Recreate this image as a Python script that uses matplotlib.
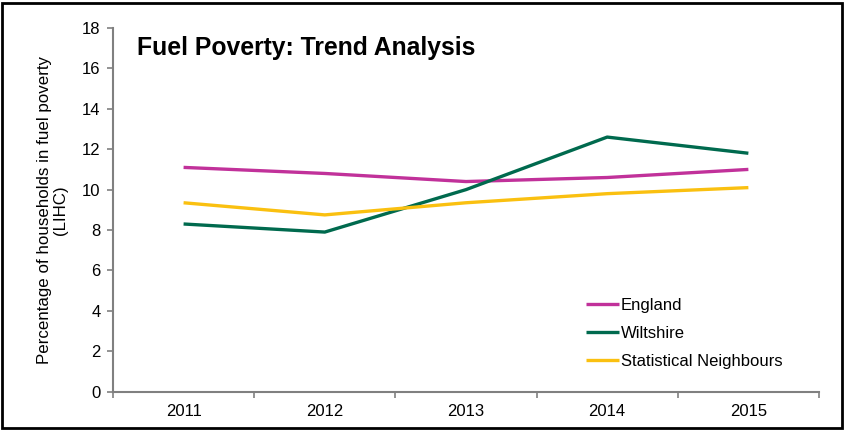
import numpy as np
import matplotlib.pyplot as plt

plt.rcParams['font.family'] = ['Liberation Sans', 'DejaVu Sans']

years = ['2011', '2012', '2013', '2014', '2015']
england = [11.1, 10.8, 10.4, 10.6, 11.0]
wiltshire = [8.3, 7.9, 10.0, 12.6, 11.8]
stat_neighbours = [9.35, 8.75, 9.35, 9.8, 10.1]

series = [
    ('England', england, '#C1319A'),
    ('Wiltshire', wiltshire, '#006A4E'),
    ('Statistical Neighbours', stat_neighbours, '#FAC010'),
]

fig = plt.figure(figsize=(8.45, 4.3), dpi=100)
ax = fig.add_axes([0.1337, 0.089, 0.8355, 0.846])

x = np.arange(len(years)) + 0.5
for name, vals, col in series:
    ax.plot(x, vals, color=col, lw=2.4, label=name, solid_capstyle='butt')

ax.set_xlim(0, len(years))
ax.set_ylim(0, 18)
ax.set_yticks(range(0, 19, 2))
ax.set_xticks(range(len(years) + 1))
ax.set_xticklabels([])
ax.set_xticks(x, minor=True)
ax.set_xticklabels(years, minor=True)

grey = '#808080'
for side in ['top', 'right']:
    ax.spines[side].set_visible(False)
for side in ['left', 'bottom']:
    ax.spines[side].set_color(grey)
    ax.spines[side].set_linewidth(1.5)
ax.tick_params(axis='y', length=4, width=1.2, color=grey, labelsize=12, pad=5)
ax.tick_params(axis='x', which='major', length=4, width=1.2, color=grey)
ax.tick_params(axis='x', which='minor', length=0, labelsize=12, pad=9)

ax.set_ylabel('Percentage of households in fuel poverty\n(LIHC)', fontsize=12.2,
              labelpad=10, linespacing=1.05)

ax.text(0.034, 0.945, 'Fuel Poverty: Trend Analysis', transform=ax.transAxes,
        fontsize=17.8, fontweight='bold', va='center', ha='left')

ax.legend(loc='upper left', bbox_to_anchor=(0.67, 0.257), frameon=False,
          fontsize=12, handlelength=2.0, handletextpad=0.1, labelspacing=0.78,
          borderpad=0, borderaxespad=0)

# frame round the whole figure
fig.patches.append(plt.Rectangle((0.002, 0.004), 0.994, 0.99, transform=fig.transFigure,
                                 fill=False, edgecolor='black', lw=2))

fig.savefig('out.png', dpi=100)
